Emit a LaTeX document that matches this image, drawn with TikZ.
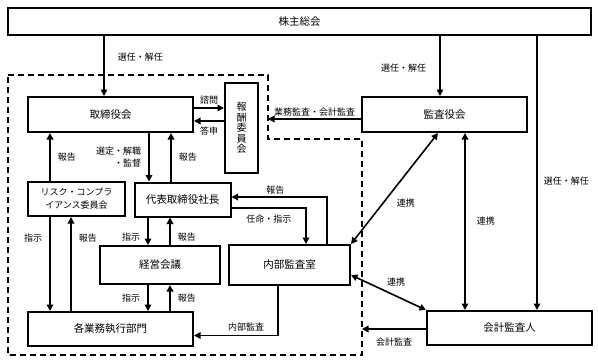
\documentclass[tikz,border=0pt]{standalone}
\usepackage{fontspec}
\setmainfont{Noto Sans CJK JP}
\usetikzlibrary{positioning, calc, arrows.meta}

\begin{document}
\begin{tikzpicture}[
    x=1pt, y=-1pt,
    box/.style={rectangle, draw=black, line width=2pt, inner sep=1pt,
                font=\fontsize{10.5}{12}\selectfont},
    lbl/.style={font=\fontsize{9}{12}\selectfont, inner sep=1pt},
    arr/.style={-{Triangle[length=6.5pt, width=6.5pt]}, line width=1.6pt},
    darr/.style={{Triangle[length=6.5pt, width=6.5pt]}-{Triangle[length=6.5pt, width=6.5pt]},
                 line width=1.6pt},
    grp/.style={dash pattern=on 6pt off 4pt, line width=1.8pt},
  ]
    \useasboundingbox (0,0) rectangle (598,364);

    % Shareholders
    \node[box, minimum width=583pt, minimum height=27pt] (soukai) at (299.5,21.5) {株主総会};

    % Inside the company
    \node[box, minimum width=165pt, minimum height=35pt] (torishimari) at (110.5,114.5) {取締役会};
    \node[box, minimum width=33pt, minimum height=90pt, align=center,
          font=\fontsize{10}{10.5}\selectfont] (houshu) at (241.5,128) {報\\酬\\委\\員\\会};
    \node[box, minimum width=97pt, minimum height=34pt, align=center,
          font=\fontsize{9}{13}\selectfont] (risk) at (76.5,199) {リスク・コンプラ\\イアンス委員会};
    \node[box, minimum width=96pt, minimum height=34pt] (daihyo) at (182.5,199.5) {代表取締役社長};
    \node[box, minimum width=120pt, minimum height=38pt] (keiei) at (160,265) {経営会議};
    \node[box, minimum width=121pt, minimum height=40pt] (naibu) at (289.5,265) {内部監査室};
    \node[box, minimum width=165pt, minimum height=34pt] (gyomu) at (110.5,329) {各業務執行部門};

    % Outside
    \node[box, minimum width=165pt, minimum height=35pt] (kansayaku) at (444.5,114.5) {監査役会};
    \node[box, minimum width=165pt, minimum height=34pt] (kaikei) at (509.5,328) {会計監査人};

    % Company boundary
    \draw[grp] (8,75) -- (268,75) -- (268,139) -- (362,139) -- (362,355) -- (8,355) -- cycle;
    \coordinate (edgeKansa) at (268,119);
    \coordinate (edgeKaikei) at (362,329);

    % Elections
    \draw[arr] (soukai.south -| 104,0) -- (torishimari.north -| 104,0)
        node[lbl, pos=0.35, right=12pt] {選任・解任};
    \draw[arr] (soukai.south -| 440,0) -- (kansayaku.north -| 440,0)
        node[lbl, pos=0.53, left=12pt] {選任・解任};
    \draw[arr] (soukai.south -| 537,0) -- (kaikei.north -| 537,0)
        node[lbl, pos=0.53, right=5pt] {選任・解任};

    % Board and committees
    \draw[arr] (torishimari.east |- 0,108) -- (houshu.west |- 0,108)
        node[lbl, midway, above=2pt] {諮問};
    \draw[arr] (houshu.west |- 0,121) -- (torishimari.east |- 0,121)
        node[lbl, midway, below=4pt] {答申};
    \draw[arr] (kansayaku.west |- edgeKansa) -- (edgeKansa)
        node[lbl, midway, above=1pt] {業務監査・会計監査};

    \draw[arr] (torishimari.south -| 149,0) -- (daihyo.north -| 149,0)
        node[lbl, midway, left=6pt, align=right] {選定・解職\\・監督};
    \draw[arr] (daihyo.north -| 171,0) -- (torishimari.south -| 171,0)
        node[lbl, midway, right=6pt] {報告};
    \draw[arr] (risk.north -| 50,0) -- (torishimari.south -| 50,0)
        node[lbl, midway, right=6pt] {報告};
    \draw[arr] (risk.south -| 50,0) -- (gyomu.north -| 50,0)
        node[lbl, pos=0.22, left=6pt] {指示};
    \draw[arr] (gyomu.north -| 71,0) -- (risk.south -| 71,0)
        node[lbl, pos=0.78, right=6pt] {報告};
    \draw[arr] (daihyo.south -| 148,0) -- (keiei.north -| 148,0)
        node[lbl, pos=0.7, left=6pt] {指示};
    \draw[arr] (keiei.north -| 170,0) -- (daihyo.south -| 170,0)
        node[lbl, pos=0.3, right=6pt] {報告};
    \draw[arr] (keiei.south -| 148,0) -- (gyomu.north -| 148,0)
        node[lbl, midway, left=6pt] {指示};
    \draw[arr] (gyomu.north -| 170,0) -- (keiei.south -| 170,0)
        node[lbl, midway, right=6pt] {報告};

    % Internal audit
    \draw[arr] (naibu.north -| 327,0) |- ([yshift=2.5pt]daihyo.east)
        node[lbl, pos=0.77, above=1pt] {報告};
    \draw[arr] ([yshift=-8.5pt]daihyo.east) -| (naibu.north -| 306,0)
        node[lbl, pos=0.25, below=5pt] {任命・指示};
    \draw[arr] (naibu.south -| 278,0) |- ([yshift=-6.5pt]gyomu.east)
        node[lbl, pos=0.69, above=2pt] {内部監査};

    % Cooperation
    \draw[darr] (kansayaku.south -| 438,0) -- (naibu.north east)
        node[lbl, pos=0.63, right=12pt] {連携};
    \draw[darr] ([yshift=-10pt]naibu.east) -- (kaikei.north west)
        node[lbl, pos=0.6, above=8pt] {連携};
    \draw[darr] (kansayaku.south -| 465,0) -- (kaikei.north -| 465,0)
        node[lbl, midway, right=10pt] {連携};
    \draw[arr] (kaikei.west |- edgeKaikei) -- (edgeKaikei)
        node[lbl, midway, below=7pt] {会計監査};
  \end{tikzpicture}
\end{document}
